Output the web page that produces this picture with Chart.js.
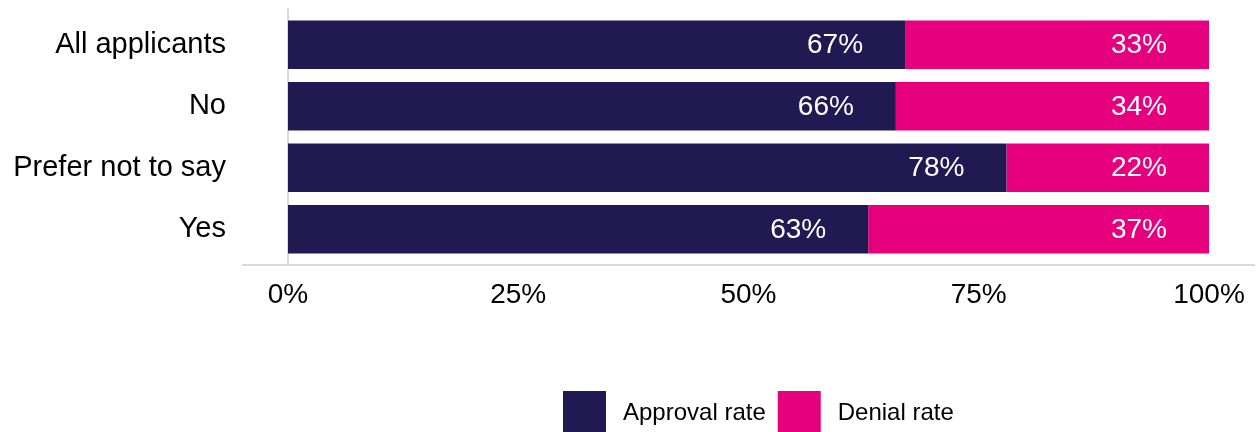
<!DOCTYPE html>
<html>
<head>
<meta charset="utf-8">
<script src="https://cdn.jsdelivr.net/npm/chart.js@4.4.1/dist/chart.umd.min.js"></script>
<style>
  html, body { margin: 0; padding: 0; background: #ffffff; }
  #wrap { width: 1258px; height: 432px; position: relative; }
</style>
</head>
<body>
<div id="wrap"><canvas id="chart" width="1258" height="432"></canvas></div>
<script>
// Approval and denial rates by applicant group (percent)
const categories = ['All applicants', 'No', 'Prefer not to say', 'Yes'];
const approvalRate = [67, 66, 78, 63];
const denialRate = [33, 34, 22, 37];
const xTicks = [0, 25, 50, 75, 100];
const seriesNames = ['Approval rate', 'Denial rate'];

const NAVY = '#211a52';
const MAGENTA = '#e6007e';
const AXIS_GREY = '#d9d9d9';
const FONT = '"Liberation Sans", Arial, sans-serif';

// Axis lines that run slightly past the plot area
const axisLines = {
  id: 'axisLines',
  beforeDatasetsDraw(chart) {
    const { ctx, chartArea } = chart;
    ctx.save();
    ctx.strokeStyle = AXIS_GREY;
    ctx.lineWidth = 2;
    const yBase = chartArea.bottom + 5;
    ctx.beginPath();
    ctx.moveTo(chartArea.left - 46, yBase);
    ctx.lineTo(chartArea.right + 46, yBase);
    ctx.stroke();
    ctx.beginPath();
    ctx.moveTo(chartArea.left, chartArea.top - 6);
    ctx.lineTo(chartArea.left, yBase);
    ctx.stroke();
    ctx.restore();
  }
};

// Value labels at the inside end of each bar segment
const barLabels = {
  id: 'barLabels',
  afterDatasetsDraw(chart) {
    const { ctx } = chart;
    ctx.save();
    ctx.font = '28px ' + FONT;
    ctx.fillStyle = '#ffffff';
    ctx.textAlign = 'right';
    ctx.textBaseline = 'middle';
    chart.data.datasets.forEach((ds, i) => {
      const meta = chart.getDatasetMeta(i);
      meta.data.forEach((bar, j) => {
        ctx.fillText(ds.data[j] + '%', bar.x - 42, bar.y + 1);
      });
    });
    ctx.restore();
  }
};

// Legend with square swatches below the chart
const squareLegend = {
  id: 'squareLegend',
  afterDraw(chart) {
    const { ctx, chartArea } = chart;
    const box = 43;
    ctx.save();
    ctx.font = '24px ' + FONT;
    ctx.textBaseline = 'middle';
    ctx.textAlign = 'left';
    let x = chartArea.left + 275;
    const top = chartArea.bottom + 131;
    chart.data.datasets.forEach((ds) => {
      ctx.fillStyle = ds.backgroundColor;
      ctx.fillRect(x, top, box, box);
      x += box + 17;
      ctx.fillStyle = '#000000';
      ctx.fillText(ds.label, x, top + 22);
      x += ctx.measureText(ds.label).width + 12;
    });
    ctx.restore();
  }
};

new Chart(document.getElementById('chart'), {
  type: 'bar',
  data: {
    labels: categories,
    datasets: [
      { label: seriesNames[0], data: approvalRate, backgroundColor: NAVY,
        barPercentage: 0.79, categoryPercentage: 1.0 },
      { label: seriesNames[1], data: denialRate, backgroundColor: MAGENTA,
        barPercentage: 0.79, categoryPercentage: 1.0 }
    ]
  },
  options: {
    indexAxis: 'y',
    responsive: false,
    animation: false,
    layout: { padding: { top: 14, right: 49, bottom: 0, left: 0 } },
    plugins: {
      legend: { display: false },
      tooltip: { enabled: false }
    },
    scales: {
      x: {
        stacked: true,
        min: xTicks[0],
        max: xTicks[xTicks.length - 1],
        afterBuildTicks(scale) { scale.ticks = xTicks.map(v => ({ value: v })); },
        afterFit(scale) {
          scale.height = 172;
          scale.paddingLeft = 0;
          scale.paddingRight = 0;
        },
        grid: { display: false, drawTicks: false },
        border: { display: false },
        ticks: {
          padding: 18,
          color: '#000000',
          font: { family: FONT, size: 28 },
          maxRotation: 0,
          callback: (v) => v + '%'
        }
      },
      y: {
        stacked: true,
        afterFit(scale) {
          scale.width = 288;
          scale.paddingTop = 0;
          scale.paddingBottom = 0;
        },
        grid: { display: false, drawTicks: false },
        border: { display: false },
        ticks: {
          padding: 62,
          color: '#000000',
          font: { family: FONT, size: 29 }
        }
      }
    }
  },
  plugins: [axisLines, barLabels, squareLegend]
});
</script>
</body>
</html>
